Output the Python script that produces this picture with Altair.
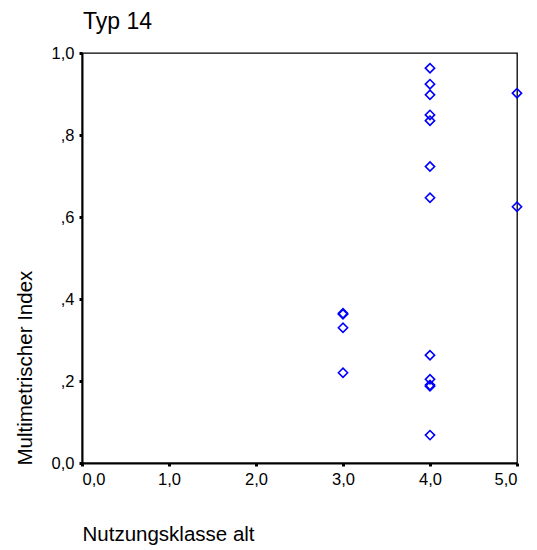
import altair as alt
import pandas as pd

nutzungsklasse = [3, 3, 3, 3,
                  4, 4, 4, 4, 4, 4, 4, 4, 4, 4, 4, 4,
                  5, 5]
index_values = [0.365, 0.363, 0.330, 0.220,
                0.963, 0.924, 0.898, 0.849, 0.835, 0.723, 0.647,
                0.263, 0.204, 0.190, 0.187, 0.068,
                0.902, 0.625]

df = pd.DataFrame({"x": nutzungsklasse, "y": index_values})

FONT = "Liberation Sans"

chart = alt.Chart(df).mark_point(
    shape="diamond", filled=False, color="#0000ff", size=85, strokeWidth=1.6, opacity=1
).encode(
    x=alt.X("x:Q", scale=alt.Scale(domain=[0, 5], nice=False, zero=False),
            axis=alt.Axis(
                title="Nutzungsklasse alt", values=[0, 1, 2, 3, 4, 5],
                labelExpr="replace(format(datum.value, '.1f'), '.', ',')",
                grid=False, domainColor="black", domainWidth=2,
                tickColor="black", tickSize=3, tickWidth=3,
                labelFont=FONT, labelFontSize=16.5, labelColor="black", labelPadding=5,
                titleFont=FONT, titleFontSize=20.5, titleFontWeight="normal", titleColor="black",
                titleAnchor="start", titleAlign="left", titleBaseline="middle",
                titleX=0, titleY=71)),
    y=alt.Y("y:Q", scale=alt.Scale(domain=[0, 1], nice=False, zero=False),
            axis=alt.Axis(
                title="Multimetrischer Index", values=[0, 0.2, 0.4, 0.6, 0.8, 1.0],
                labelExpr="datum.value > 0 && datum.value < 1 ? replace(format(datum.value, '.1f'), '0.', ',') : replace(format(datum.value, '.1f'), '.', ',')",
                grid=False, domainColor="black", domainWidth=2,
                tickColor="black", tickSize=3, tickWidth=3,
                labelFont=FONT, labelFontSize=16.5, labelColor="black", labelPadding=5,
                titleFont=FONT, titleFontSize=20.5, titleFontWeight="normal", titleColor="black",
                titleAngle=270, titleAnchor="start", titleAlign="left", titleBaseline="middle",
                titleX=-57, titleY=412)),
).properties(
    width=435, height=410,
    title=alt.TitleParams("Typ 14", anchor="start", frame="group", font=FONT, fontSize=23,
                          fontWeight="normal", color="black", offset=11, dx=1),
    autosize=alt.AutoSizeParams(type="none"),
    padding={"left": 82, "top": 53, "right": 20, "bottom": 87},
).configure_view(stroke="black", strokeWidth=1.3)

chart.save("out.html", embed_options={"renderer": "svg", "actions": False})
